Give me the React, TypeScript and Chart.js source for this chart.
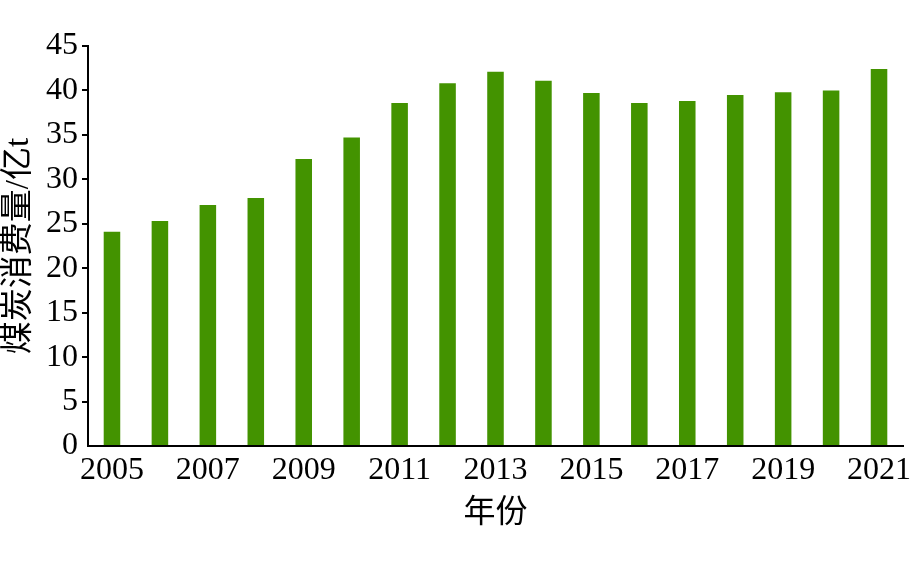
import React, { useEffect, useRef } from "react";
import { Chart, registerables } from "chart.js";

Chart.register(...registerables);

const years = ["2005","2006","2007","2008","2009","2010","2011","2012","2013","2014","2015","2016","2017","2018","2019","2020","2021"];
const coalConsumption = [24.1, 25.3, 27.1, 27.9, 32.3, 34.7, 38.6, 40.8, 42.1, 41.1, 39.7, 38.6, 38.8, 39.5, 39.8, 40.0, 42.4];
const yTitle = "煤炭消费量/亿t";
const xTitle = "年份";
const yMin = 0;
const yMax = 45;
const yStep = 5;

export default function App() {
  const ref = useRef<HTMLCanvasElement | null>(null);
  useEffect(() => {
    if (!ref.current) return;
    const serif = "'Liberation Serif', 'Times New Roman', 'Noto Sans CJK SC', serif";
    const chart = new Chart(ref.current, {
      type: "bar",
      data: {
        labels: years,
        datasets: [
          {
            data: coalConsumption,
            backgroundColor: "#439300",
            borderWidth: 0,
            categoryPercentage: 1,
            barPercentage: 0.345,
          },
        ],
      },
      options: {
        responsive: false,
        maintainAspectRatio: false,
        animation: false,
        devicePixelRatio: 1,
        layout: { padding: { top: 46, right: 10, left: 0, bottom: 0 } },
        plugins: { legend: { display: false }, tooltip: { enabled: false } },
        scales: {
          x: {
            type: "category",
            offset: true,
            grid: { display: false, drawTicks: false },
            border: { display: true, color: "#000", width: 2 },
            ticks: {
              autoSkip: false,
              maxRotation: 0,
              minRotation: 0,
              padding: 5,
              color: "#000",
              font: { family: serif, size: 32 },
              callback: function (this: any, _v: any, i: number) {
                return i % 2 === 0 ? years[i] : "";
              },
            },
            title: {
              display: true,
              text: xTitle,
              color: "#000",
              font: { family: serif, size: 32 },
              padding: { top: 0, bottom: 28 },
            },
            afterFit: (s: any) => {
              s.height = 115;
              s.paddingLeft = 0;
              s.paddingRight = 0;
            },
          },
          y: {
            min: yMin,
            max: yMax,
            grid: {
              display: true,
              drawOnChartArea: false,
              drawTicks: true,
              tickLength: 6,
              lineWidth: 2,
              color: (c: any) => (c.tick && c.tick.value === 0 ? "rgba(0,0,0,0)" : "#000"),
            },
            border: { display: true, color: "#000", width: 2 },
            ticks: {
              stepSize: yStep,
              padding: 4,
              color: "#000",
              font: { family: serif, size: 32 },
            },
            title: {
              display: true,
              text: yTitle,
              color: "#000",
              font: { family: serif, size: 33 },
              padding: { top: 0, bottom: 0 },
            },
            afterFit: (s: any) => {
              s.width = 88;
              s.paddingTop = 0;
              s.paddingBottom = 0;
            },
          },
        },
      },
    });
    return () => chart.destroy();
  }, []);
  return (
    <div style={{ position: "absolute", left: 0, top: 0, width: 913, height: 561, background: "#fff" }}>
      <canvas ref={ref} width={913} height={561} style={{ display: "block" }} />
    </div>
  );
}
